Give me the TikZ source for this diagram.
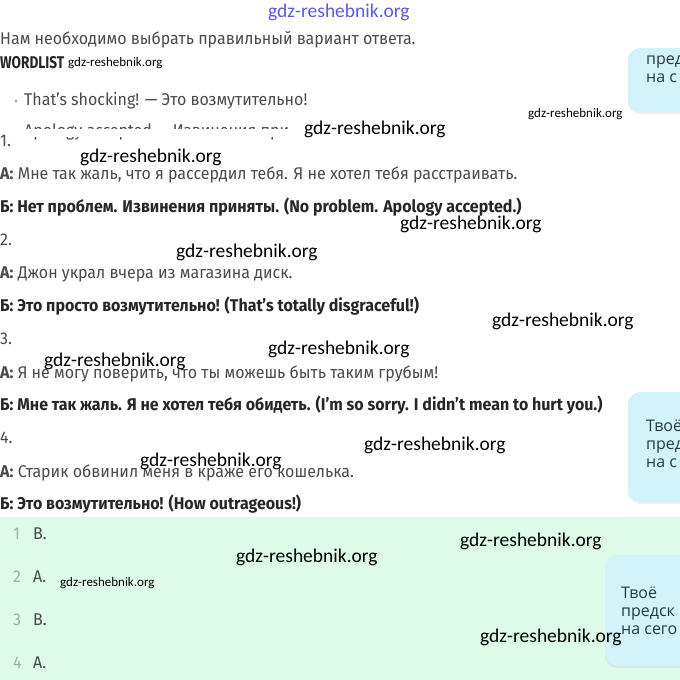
\documentclass[tikz,border=0pt]{standalone}
\usepackage{fontspec}
\setmainfont{Fira Sans}[FakeStretch=0.94]
\newfontfamily\tagfont{Fira Sans}[FakeStretch=0.80]
\newfontfamily\markfont{Carlito}
\newfontfamily\bubblefont{Open Sans}
\usetikzlibrary{shadows}
\definecolor{mint}{HTML}{DCFBE9}
\definecolor{sky}{HTML}{D3F3FA}
\definecolor{bodygray}{HTML}{4A4A4A}
\definecolor{darktext}{HTML}{262626}
\definecolor{markblue}{HTML}{5A5AE0}
\definecolor{numgray}{HTML}{A4ADA8}
\definecolor{bubbleink}{HTML}{23394A}

\begin{document}
\begin{tikzpicture}[x=1pt,y=-1pt,
    bodyline/.style={anchor=west, inner sep=0pt, text=bodygray, font=\fontsize{17}{20}\selectfont},
    answerline/.style={bodyline, text=darktext, font=\fontsize{17}{20}\selectfont\bfseries},
    keynum/.style={bodyline, text=numgray},
    wmark/.style={anchor=west, inner sep=0pt, text=black, font=\markfont\fontsize{19.5}{22}\selectfont},
    wmarksmall/.style={wmark, font=\markfont\fontsize{13}{15}\selectfont},
    bubble/.style={fill=sky, rounded corners=12pt, drop shadow={opacity=0.12, shadow xshift=0pt, shadow yshift=-2pt}},
    bubbletext/.style={anchor=north west, inner sep=0pt, align=left, text=bubbleink, font=\bubblefont\fontsize{16}{18}\selectfont}]
    \useasboundingbox (0,0) rectangle (680,680);
    \clip (0,0) rectangle (680,680);

    % answer key background
    \fill[mint] (0,517) rectangle (680,680);

    % side bubbles
    \fill[bubble] (628,48) rectangle (700,112);
    \fill[bubble] (628,392) rectangle (700,502);
    \fill[bubble] (605,555) rectangle (700,666);
    \node[bubbletext] (tip1) at (646,56) {пред\\на с};
    \node[bubbletext] (tip2) at (646,420) {Твоё\\пред\\на с};
    \node[bubbletext] (tip3) at (621,587) {Твоё\\предск\\на сего};

    % task and wordlist
    \node[bodyline] (task) at (0,40) {Нам необходимо выбрать правильный вариант ответа.};
    \node[answerline, text=darktext, font=\tagfont\fontsize{17}{20}\selectfont\bfseries] (wordlist) at (0,63) {WORDLIST};
    \fill[numgray] (16,101) circle (1.6);
    \node[bodyline] (word1) at (24,101) {That's shocking! — Это возмутительно!};
    \node[bodyline] (word2) at (24,132) {Apology accepted — Извинения при};
    \fill[white] (0,129) rectangle (300,137);

    % dialogues
    \node[bodyline] (n1) at (0,141) {1.};
    \node[bodyline] (a1) at (0,175) {\textbf{А:} Мне так жаль, что я рассердил тебя. Я не хотел тебя расстраивать.};
    \node[answerline] (b1) at (0,207) {Б: Нет проблем. Извинения приняты. (No problem. Apology accepted.)};
    \node[bodyline] (n2) at (0,240) {2.};
    \node[bodyline] (a2) at (0,274) {\textbf{А:} Джон украл вчера из магазина диск.};
    \node[answerline] (b2) at (0,306) {Б: Это просто возмутительно! (That's totally disgraceful!)};
    \node[bodyline] (n3) at (0,339) {3.};
    \node[bodyline] (a3) at (0,374) {\textbf{А:} Я не могу поверить, что ты можешь быть таким грубым!};
    \node[answerline] (b3) at (0,405) {Б: Мне так жаль. Я не хотел тебя обидеть. (I'm so sorry. I didn't mean to hurt you.)};
    \node[bodyline] (n4) at (0,438) {4.};
    \node[bodyline] (a4) at (0,473) {\textbf{А:} Старик обвинил меня в краже его кошелька.};
    \node[answerline] (b4) at (0,504) {Б: Это возмутительно! (How outrageous!)};

    % answer key
    \node[keynum] (k1) at (13,534) {1};
    \node[bodyline] (v1) at (33,534) {В.};
    \node[keynum] (k2) at (13,577) {2};
    \node[bodyline] (v2) at (33,577) {А.};
    \node[keynum] (k3) at (13,620) {3};
    \node[bodyline] (v3) at (33,620) {В.};
    \node[keynum] (k4) at (13,663) {4};
    \node[bodyline] (v4) at (33,663) {А.};

    % watermarks
    \node[wmark, text=markblue] (m0) at (268,12) {gdz-reshebnik.org};
    \node[wmarksmall] (m1) at (68,63) {gdz-reshebnik.org};
    \node[wmarksmall] (m2) at (528,114) {gdz-reshebnik.org};
    \node[wmark] (m3) at (304,129) {gdz-reshebnik.org};
    \node[wmark] (m4) at (80,157) {gdz-reshebnik.org};
    \node[wmark] (m5) at (400,224) {gdz-reshebnik.org};
    \node[wmark] (m6) at (176,252) {gdz-reshebnik.org};
    \node[wmark] (m7) at (492,321) {gdz-reshebnik.org};
    \node[wmark] (m8) at (268,349) {gdz-reshebnik.org};
    \node[wmark] (m9) at (44,361) {gdz-reshebnik.org};
    \node[wmark] (m10) at (364,445) {gdz-reshebnik.org};
    \node[wmark] (m11) at (140,461) {gdz-reshebnik.org};
    \node[wmark] (m12) at (460,541) {gdz-reshebnik.org};
    \node[wmark] (m13) at (236,557) {gdz-reshebnik.org};
    \node[wmarksmall] (m14) at (60,583) {gdz-reshebnik.org};
    \node[wmark] (m15) at (480,637) {gdz-reshebnik.org};
\end{tikzpicture}
\end{document}
